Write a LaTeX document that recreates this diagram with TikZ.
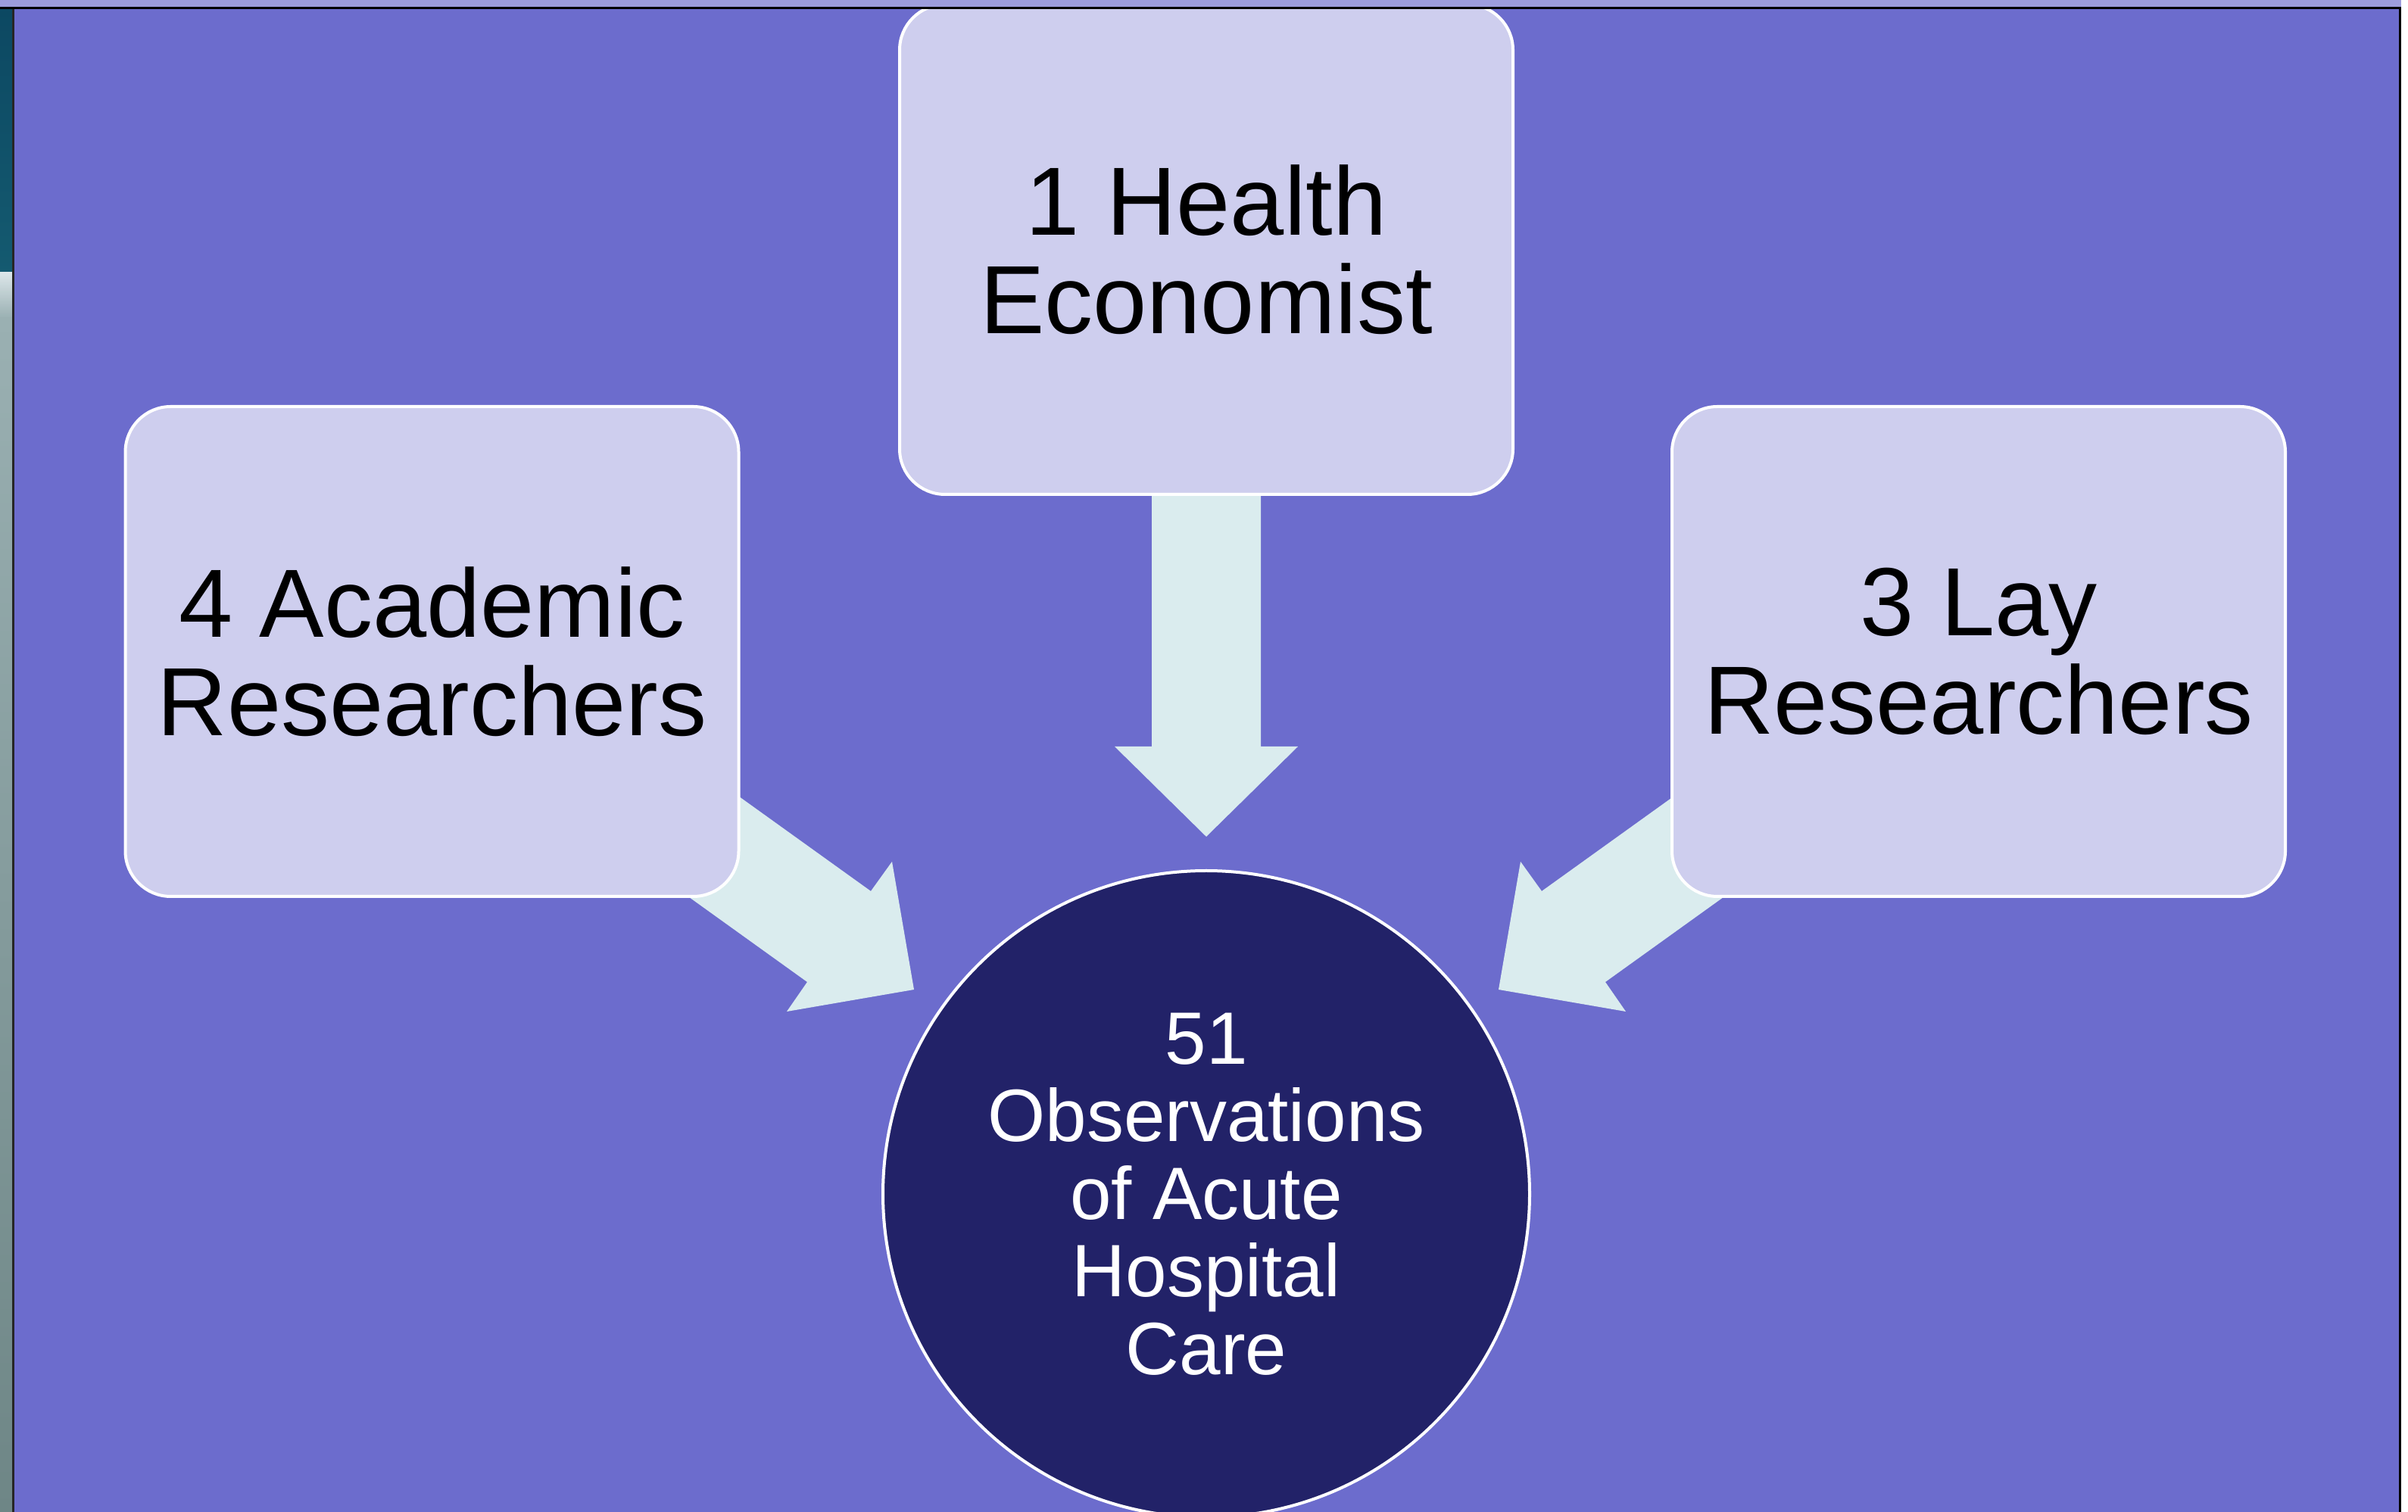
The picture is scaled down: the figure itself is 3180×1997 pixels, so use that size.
\documentclass[tikz,border=0pt]{standalone}
\usepackage{fontspec}
\setmainfont{Liberation Sans}
\definecolor{bgc}{RGB}{108,108,205}
\definecolor{boxc}{RGB}{206,206,238}
\definecolor{arrc}{RGB}{218,236,238}
\definecolor{circc}{RGB}{34,34,104}
\definecolor{topc}{RGB}{157,157,221}
\definecolor{tealA}{RGB}{12,72,98}
\definecolor{tealB}{RGB}{20,90,112}
\definecolor{greyA}{RGB}{154,176,178}
\definecolor{greyB}{RGB}{110,134,134}
\begin{document}
\begin{tikzpicture}[x=0.25pt,y=-0.25pt,
  boxnode/.style={rectangle, rounded corners=15pt, minimum width=202.5pt, minimum height=161.75pt,
    fill=boxc, draw=white, line width=1pt, align=center, text=black,
    font=\fontsize{32}{32.5}\selectfont, inner sep=0pt},
  circnode/.style={circle, minimum size=213.5pt, fill=circc, draw=white, line width=1pt,
    align=center, text=white, font=\fontsize{24.5}{25.6}\selectfont, inner sep=0pt},
  blockarrow/.style={fill=arrc, draw=none}]
\useasboundingbox (0,0) rectangle (3180,1997);
\fill[bgc] (0,0) rectangle (3180,1997);
% left strip
\shade[top color=tealA, bottom color=tealB] (0,12) rectangle (16,360);
\shade[top color=white!85!tealB, bottom color=greyA] (0,360) rectangle (16,420);
\shade[top color=greyA, bottom color=greyB] (0,420) rectangle (16,1997);
% arrows
\coordinate (dA) at (1521,600); \coordinate (dB) at (1521,986); \coordinate (dC) at (1472,986);
\coordinate (dT) at (1593,1105); \coordinate (dD) at (1714,986); \coordinate (dE) at (1665,986);
\coordinate (dF) at (1665,600);
\fill[blockarrow] (dA) -- (dB) -- (dC) -- (dT) -- (dD) -- (dE) -- (dF) -- cycle;
\coordinate (rT) at (1979,1307); \coordinate (rH1) at (2008,1138); \coordinate (rS1) at (2036,1177);
\coordinate (rF1) at (2320,973); \coordinate (rF2) at (2404,1093); \coordinate (rS2) at (2120,1297);
\coordinate (rH2) at (2147,1336);
\fill[blockarrow] (rT) -- (rH1) -- (rS1) -- (rF1) -- (rF2) -- (rS2) -- (rH2) -- cycle;
\coordinate (lT) at (1207,1307); \coordinate (lH1) at (1178,1138); \coordinate (lS1) at (1150,1177);
\coordinate (lF1) at (866,973); \coordinate (lF2) at (782,1093); \coordinate (lS2) at (1066,1297);
\coordinate (lH2) at (1039,1336);
\fill[blockarrow] (lT) -- (lH1) -- (lS1) -- (lF1) -- (lF2) -- (lS2) -- (lH2) -- cycle;
% boxes
\node[boxnode] (top) at (1593,329.5) {1 Health\\Economist};
\node[boxnode] (left) at (570.5,860.5) {4 Academic\\Researchers};
\node[boxnode] (right) at (2613,860.5) {3 Lay\\Researchers};
\node[circnode] (obs) at (1593,1577) {51\\Observations\\of Acute\\Hospital\\Care};
% frame
\fill[topc] (0,0) rectangle (3180,9);
\fill[black] (0,9) rectangle (3172,12);
\fill[black!85] (16,12) rectangle (18.5,1997);
\fill[black] (3168,9) rectangle (3171,1997);
\fill[white] (3171,0) rectangle (3180,1997);
\end{tikzpicture}
\end{document}
